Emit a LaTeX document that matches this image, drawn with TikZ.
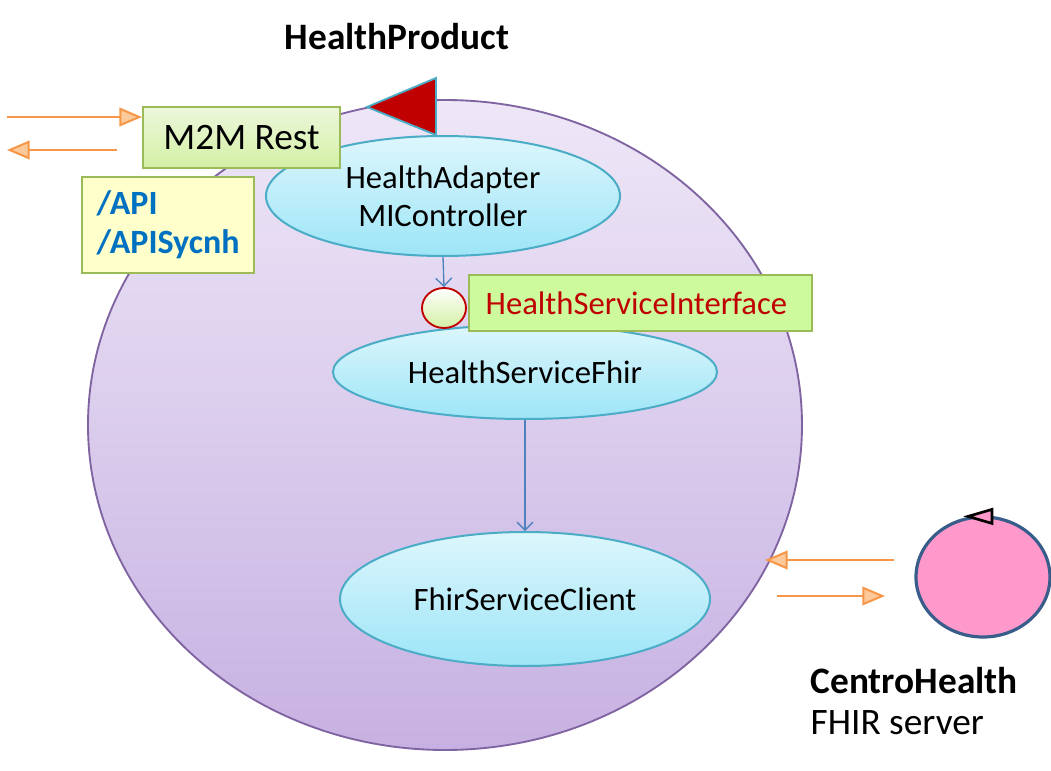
\documentclass[tikz,border=0pt]{standalone}
\usepackage{fontspec}
\setmainfont{Carlito}
\usetikzlibrary{shapes.geometric,arrows.meta}
\definecolor{prodline}{HTML}{8064A2}
\definecolor{prodtop}{HTML}{EEE7F7}
\definecolor{prodbot}{HTML}{C7B1E2}
\definecolor{compline}{HTML}{4BACC6}
\definecolor{comptop}{HTML}{DDF6FC}
\definecolor{compbot}{HTML}{9DE5F7}
\definecolor{tagline}{HTML}{9BBB59}
\definecolor{tagtop}{HTML}{EDF7DC}
\definecolor{tagbot}{HTML}{D3F0A4}
\definecolor{ifacefill}{HTML}{CCFA9C}
\definecolor{apifill}{HTML}{FFFFCC}
\definecolor{apiblue}{HTML}{0070C0}
\definecolor{ifacered}{HTML}{C00000}
\definecolor{ioline}{HTML}{F79646}
\definecolor{iofill}{HTML}{FBC99A}
\definecolor{callline}{HTML}{4F81BD}
\definecolor{serverfill}{HTML}{FF99CC}
\definecolor{serverline}{HTML}{385D8A}

\begin{document}
\begin{tikzpicture}[x=0.75pt,y=-0.75pt,
  comp/.style={ellipse,draw=compline,line width=1.5pt,top color=comptop,bottom color=compbot,
    font=\fontsize{24.5}{28.5}\selectfont,align=center,inner sep=0pt},
  tag/.style={rectangle,draw=tagline,line width=1.5pt,inner sep=0pt},
  io/.style={draw=ioline,line width=1.5pt,-{Triangle[fill=iofill,length=17pt,width=14pt]}},
  call/.style={draw=callline,line width=1pt,-{Straight Barb[length=6pt,width=12pt]}}]
\useasboundingbox (0,0) rectangle (1051,771);

% the product
\node[ellipse,draw=prodline,line width=1.4pt,top color=prodtop,bottom color=prodbot,
  minimum width=535.5pt,minimum height=487.5pt] (product) at (445,425) {};
\node[font=\fontsize{28}{32}\selectfont\bfseries] (prodname) at (397,37) {HealthProduct};

% port
\filldraw[fill=ifacered,draw=compline,line width=1.4pt] (367,107) -- (436,78) -- (436,135) -- cycle;

\node[comp,minimum width=265.5pt,minimum height=90pt] (adapter) at (443,196) {HealthAdapter\\MIController};
\node[comp,minimum width=288pt,minimum height=70.5pt] (fhir) at (525,372) {HealthServiceFhir};
\node[comp,minimum width=277.5pt,minimum height=100.5pt] (client) at (525,599) {FhirServiceClient};

% interface
\node[ellipse,draw=ifacered,line width=1.4pt,top color=white,bottom color=tagbot,
  minimum width=33pt,minimum height=30pt,inner sep=0pt] (iface) at (444,308) {};
\node[tag,fill=ifacefill,minimum height=42pt,text width=257pt,align=left,
  text=ifacered,font=\fontsize{24.5}{28}\selectfont,anchor=west] (ifacename) at (468,303)
  {\hspace*{12.5pt}HealthServiceInterface};

\draw[call] (adapter.south) -- (iface.north);
\draw[call] (fhir.south) -- (client.north);

% rest access
\node[tag,top color=tagtop,bottom color=tagbot,minimum width=147.75pt,minimum height=45.75pt,
  font=\fontsize{28}{32}\selectfont] (rest) at (241.5,137.5) {M2M Rest};
\node[tag,fill=apifill,minimum width=129pt,minimum height=72pt,text width=107pt,align=left,
  text=apiblue,font=\fontsize{25.5}{29}\selectfont\bfseries] (api) at (168,225) {/API\\/APISycnh};

\coordinate (restin) at (7,117);
\coordinate (restout) at (117,150);
\draw[io] (restin) -- (rest.west |- restin);
\draw[io] (restout) -- (7,150);

% fhir server
\node[ellipse,draw=serverline,line width=2.4pt,fill=serverfill,
  minimum width=100.5pt,minimum height=90pt] (server) at (983,577) {};
\draw[black,fill=serverfill,line width=2pt] (server.north) ++(-15,1) -- ++(24,-7) -- ++(0,14) -- cycle;
\node[anchor=west,font=\fontsize{28}{32}\selectfont\bfseries] (servername) at (806,681) {CentroHealth};
\node[anchor=west,font=\fontsize{28}{32}\selectfont] (serverkind) at (806,723) {FHIR server};

\coordinate (srvout) at (894,560);
\coordinate (srvin) at (777,596);
\draw[io] (srvout) -- (765,560);
\draw[io] (srvin) -- (885,596);
\end{tikzpicture}
\end{document}
